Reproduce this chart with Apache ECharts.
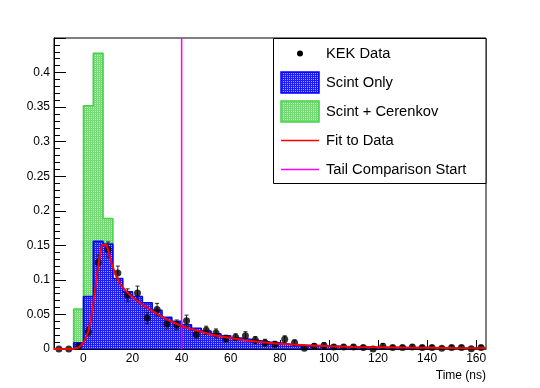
<!DOCTYPE html>
<html><head><meta charset="utf-8">
<script src="https://cdn.jsdelivr.net/npm/echarts@6/dist/echarts.min.js"></script>
<style>html,body{margin:0;padding:0;background:#fff}#c{width:540px;height:388px}</style>
</head><body><div id="c"></div>
<script>
// ---- data ----
const binLeftEdges = [-12,-8,-4,0,4,8,12,16,20,24,28,32,36,40,44,48,52,56,60,64,68,72,76,80,84,88,92,96,100,104,108,112,116,120,124,128,132,136,140,144,148,152,156,160];
const binUpperEdge = 164;
const scintOnly = [0,0,0.009,0.076,0.156,0.152,0.102,0.083,0.076,0.067,0.056,0.046,0.040,0.035,0.030,0.026,0.022,0.019,0.016,0.014,0.012,0.010,0.009,0.007,0.006,0.005,0.005,0.004,0.004,0.003,0.003,0.003,0.002,0.002,0.002,0.002,0.002,0.002,0.001,0.001,0.001,0.001,0.001,0.001];
const scintCerenkov = [0,0,0.058,0.352,0.428,0.189,0.099,0.081,0.074,0.065,0.054,0.045,0.039,0.034,0.029,0.025,0.021,0.018,0.015,0.013,0.011,0.009,0.008,0.006,0.005,0.004,0.004,0.003,0.003,0.002,0.002,0.002,0.001,0.001,0.001,0.001,0.001,0.001,0.0005,0.0005,0.0005,0.0005,0.0005,0.0005];
const dataTimes = [-10,-6,-2,2,6,10,14,18,22,26,30,34,38,42,46,50,54,58,62,66,70,74,78,82,86,90,94,98,102,106,110,114,118,122,126,130,134,138,142,146,150,154,158,162];
const dataValues = [0,0,0.004,0.025,0.125,0.144,0.110,0.078,0.081,0.045,0.057,0.036,0.035,0.041,0.021,0.027,0.023,0.015,0.017,0.019,0.013,0.009,0.007,0.014,0.009,0.001,0.004,0.005,0.003,0.003,0.003,0.002,0.0,0.004,0.002,0.002,0.003,0.002,0.002,0.001,0.002,0.002,0.0005,0.002];
const dataErrors = [0,0,0.003,0.006,0.011,0.011,0.010,0.009,0.010,0.008,0.009,0.007,0.007,0.008,0.006,0.006,0.006,0.005,0.005,0.006,0.005,0.005,0.004,0.005,0.004,0.003,0.004,0.004,0.003,0.003,0.003,0.003,0.002,0.004,0.003,0.003,0.003,0.003,0.003,0.002,0.003,0.003,0.002,0.003];
const fitTimes = [-12,-6,-4,-2,0,1,2,3,4,5,6,7,7.5,9.4,10.5,11.5,12.5,13.5,15,17,19,21,23,25,28,31,34,37,40,44,48,52,56,60,65,70,75,80,90,100,110,120,130,140,150,164];
const fitValues = [0,0,0.0005,0.002,0.009,0.016,0.026,0.042,0.065,0.092,0.118,0.142,0.150,0.151,0.137,0.124,0.113,0.104,0.094,0.085,0.078,0.072,0.067,0.062,0.055,0.049,0.043,0.038,0.033,0.029,0.025,0.021,0.018,0.016,0.013,0.011,0.009,0.0075,0.0055,0.004,0.003,0.0025,0.002,0.0017,0.0014,0.001];
const tailStart = 40;
const xTickValues = [0,20,40,60,80,100,120,140,160];
const legendNames = ['KEK Data','Scint Only','Scint + Cerenkov','Fit to Data','Tail Comparison Start'];

// ---- patterns ----
function makePattern(base, light, spots) {
  const c = document.createElement('canvas'); c.width = 4; c.height = 4;
  const g = c.getContext('2d');
  g.fillStyle = base; g.fillRect(0,0,4,4);
  g.fillStyle = light;
  spots.forEach(p => g.fillRect(p[0], p[1], 1, 1));
  return {image: c, repeat: 'repeat'};
}
const bluePat = makePattern('#1c1cff', '#a8a8ff', [[1,1],[3,3],[1,3],[3,1]]);
const greenPat = makePattern('#74d874', '#cdf3cd', [[1,1],[3,3],[1,3],[3,1]]);
const greenEdge = '#44d444';

function histData(vals) {
  const d = binLeftEdges.map((e,i)=>[e, vals[i]]);
  d.push([binUpperEdge, vals[vals.length-1]]);
  return d;
}

const FONT = 'Liberation Sans, Arial, Helvetica, sans-serif';
const chart = echarts.init(document.getElementById('c'), null, {renderer:'canvas'});

const legendTop = 38, legendLeft = 273.5, legendRight = 486, legendBottom = 183;
const rowY = [53.5, 82.5, 111.5, 140.5, 169.5];
const iconX0 = 281, iconX1 = 319, textX = 326;
const legendGraphics = [
  {type:'rect', shape:{x:legendLeft, y:legendTop+0.5, width:legendRight-legendLeft, height:legendBottom-legendTop}, style:{fill:'#fff', stroke:'#000', lineWidth:1}, z:100},
  {type:'circle', shape:{cx:300, cy:rowY[0], r:3}, style:{fill:'#000'}, z:101},
  {type:'rect', shape:{x:iconX0, y:rowY[1]-10.5, width:iconX1-iconX0, height:21}, style:{fill:bluePat, stroke:'#0000ff', lineWidth:1.5}, z:101},
  {type:'rect', shape:{x:iconX0, y:rowY[2]-10.5, width:iconX1-iconX0, height:21}, style:{fill:greenPat, stroke:greenEdge, lineWidth:1.5}, z:101},
  {type:'line', shape:{x1:iconX0, y1:rowY[3], x2:iconX1, y2:rowY[3]}, style:{stroke:'#ff0000', lineWidth:1.5}, z:101},
  {type:'line', shape:{x1:iconX0, y1:rowY[4], x2:iconX1, y2:rowY[4]}, style:{stroke:'#ff00ff', lineWidth:1.5}, z:101}
];
legendNames.forEach((n,i)=>{
  legendGraphics.push({type:'text', x:textX, y:rowY[i], style:{text:n, fill:'#000', font:'14.7px '+FONT, textAlign:'left', textVerticalAlign:'middle'}, z:101});
});

chart.setOption({
  animation:false,
  backgroundColor:'#fff',
  grid:{left:54, right:54, top:38, bottom:39, show:true, borderColor:'#000', borderWidth:1, containLabel:false, outerBoundsMode:'none'},
  xAxis:{
    type:'value', min:-12, max:164,
    name:'Time (ns)', nameLocation:'end', nameGap:0,
    nameTextStyle:{fontFamily:FONT, fontSize:12, color:'#000', align:'right', verticalAlign:'top', padding:[21,0,0,0]},
    axisLine:{show:true, onZero:false, lineStyle:{color:'#000', width:1}},
    axisTick:{show:true, inside:true, length:9, customValues:xTickValues, lineStyle:{color:'#000'}},
    axisLabel:{show:true, customValues:xTickValues, fontFamily:FONT, fontSize:12, color:'#000', margin:4},
    splitLine:{show:false}, minorTick:{show:false}
  },
  yAxis:{
    type:'value', min:0, max:0.45, interval:0.05,
    axisLine:{show:true, onZero:false, lineStyle:{color:'#000', width:1}},
    axisTick:{show:true, inside:true, length:12, lineStyle:{color:'#000'}},
    minorTick:{show:true, splitNumber:5, length:6, lineStyle:{color:'#000'}},
    axisLabel:{fontFamily:FONT, fontSize:12, color:'#000', margin:4, showMaxLabel:false,
      formatter:v => (Math.abs(v-0.45)<1e-9 ? '' : String(+v.toFixed(2)))},
    splitLine:{show:false}
  },
  graphic:legendGraphics,
  series:[
    {name:'Scint + Cerenkov', type:'line', step:'end', data:histData(scintCerenkov), showSymbol:false, symbol:'none',
      lineStyle:{color:greenEdge, width:1.5}, areaStyle:{color:greenPat, opacity:1}, itemStyle:{color:greenEdge}, z:1, silent:true},
    {name:'Scint Only', type:'line', step:'end', data:histData(scintOnly), showSymbol:false, symbol:'none',
      lineStyle:{color:'#0000ff', width:1.5}, areaStyle:{color:bluePat, opacity:1}, itemStyle:{color:'#0000ff'}, z:2, silent:true},
    {name:'Tail Comparison Start', type:'line', data:[[tailStart,0],[tailStart,0.45]], showSymbol:false, symbol:'none',
      lineStyle:{color:'#ff00ff', width:1.5}, z:3, silent:true},
    {name:'KEK Data errors', type:'custom', data:dataTimes.map((t,i)=>[t,dataValues[i],dataErrors[i]]), z:4, silent:true,
      renderItem:(params, api)=>{
        const x=api.value(0), v=api.value(1), e=api.value(2);
        if(!e) return {type:'group', children:[]};
        const top=api.coord([x,v+e]), bot=api.coord([x,Math.max(0,v-e)]);
        const st={stroke:'#222', lineWidth:1};
        return {type:'group', children:[
          {type:'line', shape:{x1:top[0],y1:top[1],x2:bot[0],y2:bot[1]}, style:st},
          {type:'line', shape:{x1:top[0]-2,y1:top[1],x2:top[0]+2,y2:top[1]}, style:st},
          {type:'line', shape:{x1:bot[0]-2,y1:bot[1],x2:bot[0]+2,y2:bot[1]}, style:st}
        ]};
      }},
    {name:'KEK Data', type:'scatter', data:dataTimes.map((t,i)=>[t,dataValues[i]]), symbol:'circle', symbolSize:7,
      itemStyle:{color:'#000'}, z:5, silent:true},
    {name:'Fit to Data', type:'line', data:fitTimes.map((t,i)=>[t,fitValues[i]]), showSymbol:false, symbol:'none',
      lineStyle:{color:'#ff0000', width:2}, z:6, silent:true}
  ]
});
</script>
</body></html>
